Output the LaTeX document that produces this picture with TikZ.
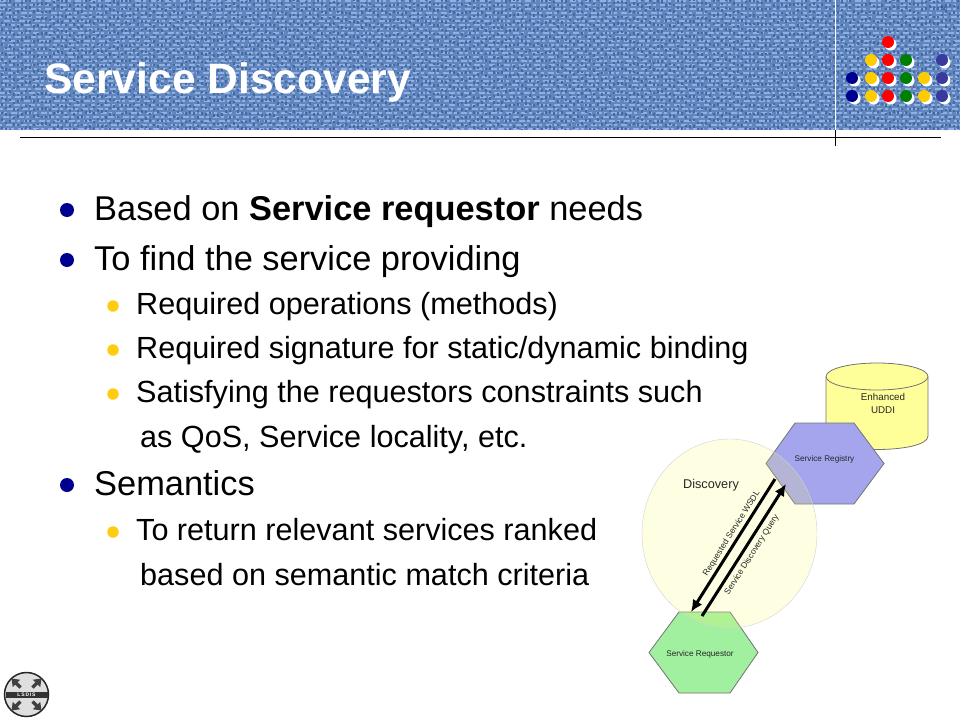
\documentclass[tikz,border=0pt]{standalone}
\usepackage{fontspec}
\setmainfont{Liberation Sans}
\usetikzlibrary{shapes.geometric,arrows.meta}
\definecolor{banner}{HTML}{6186BE}
\definecolor{weavelight}{HTML}{90B0E4}
\definecolor{weavedark}{HTML}{456A9F}
\definecolor{dotnavy}{HTML}{000090}
\definecolor{dotgold}{HTML}{FFCC00}
\definecolor{dotred}{HTML}{FF0000}
\definecolor{dotgreen}{HTML}{008000}
\definecolor{dotindigo}{HTML}{3A3A9E}
\definecolor{subgold}{HTML}{FFCC11}
\definecolor{uddifill}{HTML}{FFFF99}
\definecolor{regfill}{HTML}{A5A5EE}
\definecolor{reqfill}{HTML}{A0F0A0}
\definecolor{discfill}{HTML}{FAFA64}
\begin{document}
\begin{tikzpicture}[x=1pt,y=-1pt]
  \tikzstyle{dot}    =[circle,inner sep=0pt,minimum size=12pt]
  \tikzstyle{bigtxt} =[anchor=base west,inner sep=0pt,font=\fontsize{34.4}{34}\selectfont]
  \tikzstyle{subtxt} =[anchor=base west,inner sep=0pt,font=\fontsize{30.6}{30}\selectfont]
  \tikzstyle{bigbul} =[circle,inner sep=0pt,minimum size=14pt,fill=dotnavy]
  \tikzstyle{subbul} =[circle,inner sep=0pt,minimum size=11.5pt,fill=subgold]
  \tikzstyle{hexline}=[draw=black!55,line width=.8pt]
  \tikzstyle{hexlabel}=[inner sep=0pt,font=\fontsize{8.2}{10}\selectfont,text=black!85]
  \tikzstyle{msgarrow}=[line width=3pt,-{Latex[length=12pt,width=11pt]}]
  \tikzstyle{msglabel}=[sloped,inner sep=2pt,font=\fontsize{8.5}{10}\selectfont,text=black!85]
  \useasboundingbox (0,0) rectangle (960,720);
  % banner
  \fill[banner] (0,0) rectangle (960,130);
  \begin{scope}
    \clip (0,0) rectangle (960,130);
    \pgfmathsetseed{56}
    \foreach \y in {1,5,...,130}{
      \pgfmathsetmacro{\ph}{random(0,13)}
      \draw[weavelight,line width=1.8pt,dash pattern=on 6pt off 2pt on 3pt off 4pt,dash phase=\ph pt] (0,\y) -- (960,\y);
    }
    \foreach \x in {2,6,...,960}{
      \pgfmathsetmacro{\ph}{random(0,13)}
      \draw[weavedark,line width=1.3pt,dash pattern=on 3pt off 6pt on 2pt off 4pt,dash phase=\ph pt] (\x,0) -- (\x,130);
    }
  \end{scope}
  \node[anchor=base west,inner sep=0pt,text=white,font=\fontsize{42.6}{42}\selectfont\bfseries] (title) at (44,93) {Service Discovery};
  \node[inner sep=0pt,text=dotindigo,font=\fontsize{6}{6}\selectfont] (pageno) at (944,8) {56};
  % rules
  \draw[white,line width=1pt] (835,0) -- (835,130);
  \draw[black,line width=1pt] (835,130) -- (835,146);
  \draw[black,line width=1pt] (20,137) -- (941,137);
  % dots
  \foreach \x/\c/\rows in {852/dotnavy/{78,96},871/dotgold/{60,78,96},888/dotred/{42,60,78,96},
                           906/dotgreen/{60,78,96},924/dotgold/{78,96},942/dotindigo/{60,78,96}}{
    \foreach \y in \rows{
      \fill[white] (\x+2.5,\y+2.5) circle (6);
      \node[dot,fill=\c] (d\x-\y) at (\x,\y) {};
    }
  }
  % text
  \node[bigbul] (b1) at (67,210) {};
  \node[bigtxt] (t1) at (94,220) {Based on \textbf{Service requestor} needs};
  \node[bigbul] (b2) at (67,260) {};
  \node[bigtxt] (t2) at (94,270) {To find the service providing};
  \node[subbul] (b3) at (113,306) {};
  \node[subtxt] (t3) at (136,314) {Required operations (methods)};
  \node[subbul] (b4) at (113,350) {};
  \node[subtxt] (t4) at (136,358) {Required signature for static/dynamic binding};
  \node[subbul] (b5) at (113,394) {};
  \node[subtxt] (t5) at (136,402) {Satisfying the requestors constraints such};
  \node[subtxt] (t6) at (140,447) {as QoS, Service locality, etc.};
  \node[bigbul] (b6) at (67,485) {};
  \node[bigtxt] (t7) at (94,495) {Semantics};
  \node[subbul] (b7) at (113,532) {};
  \node[subtxt] (t8) at (136,540) {To return relevant services ranked};
  \node[subtxt] (t9) at (140,585) {based on semantic match criteria};
  % diagram
  \draw[hexline,fill=uddifill] (826,376.5) -- (826,436) .. controls (826,454) and (928,454) .. (928,436) -- (928,376.5);
  \draw[hexline,fill=uddifill] (877,376.5) ellipse [x radius=51pt,y radius=13.5pt];
  \node[align=center,font=\fontsize{9.8}{13}\selectfont,text=black!85] (uddi) at (883,403) {Enhanced\\UDDI};
  \draw[hexline,fill=regfill] (766,463.5) -- (795,423) -- (854,423) -- (884,463.5) -- (854,504) -- (795,504) -- cycle;
  \node[hexlabel] (registry) at (824.5,459.5) {Service Registry};
  \draw[hexline,fill=reqfill] (649,652.5) -- (679,612) -- (730,612) -- (758,652.5) -- (730,693) -- (679,693) -- cycle;
  \node[hexlabel] (requestor) at (700,654) {Service Requestor};
  \node[ellipse,minimum width=175pt,minimum height=189pt,inner sep=0pt,fill=discfill,fill opacity=.18,draw=gray!35] (discovery) at (729.5,533.5) {};
  \node[font=\fontsize{12.7}{12}\selectfont,text=black!85] (disclabel) at (711,485) {Discovery};
  \coordinate (wsdlstart) at (775,479);
  \coordinate (wsdlend) at (691,612);
  \coordinate (querystart) at (702,616);
  \coordinate (queryend) at (786,484);
  \draw[msgarrow] (wsdlstart) -- (wsdlend) node[msglabel,above,pos=.44] {Requested Service WSDL};
  \draw[msgarrow] (querystart) -- (queryend) node[msglabel,below,pos=.5,inner sep=4pt] {Service Discovery Query};
  % logo
  \node[circle,minimum size=44pt,inner sep=0pt,fill=gray!25,draw=black!85,line width=1.5pt] (logo) at (26.5,694.5) {};
  \foreach \a/\b in {-1/-1,1/-1,-1/1,1/1}{
    \draw[line width=3.5pt,black!75,-{Triangle[length=7pt,width=10pt]}] (26.5+6*\a,694.5+7*\b) -- (26.5+15*\a,694.5+16*\b);
  }
  \fill[black!80] (5.5,691.5) rectangle (47.5,697.5);
  \node[inner sep=0pt,text=white,font=\fontsize{5}{5}\selectfont\bfseries] (logotxt) at (26.5,694.5) {L\,S\,D\,I\,S};
\end{tikzpicture}
\end{document}
